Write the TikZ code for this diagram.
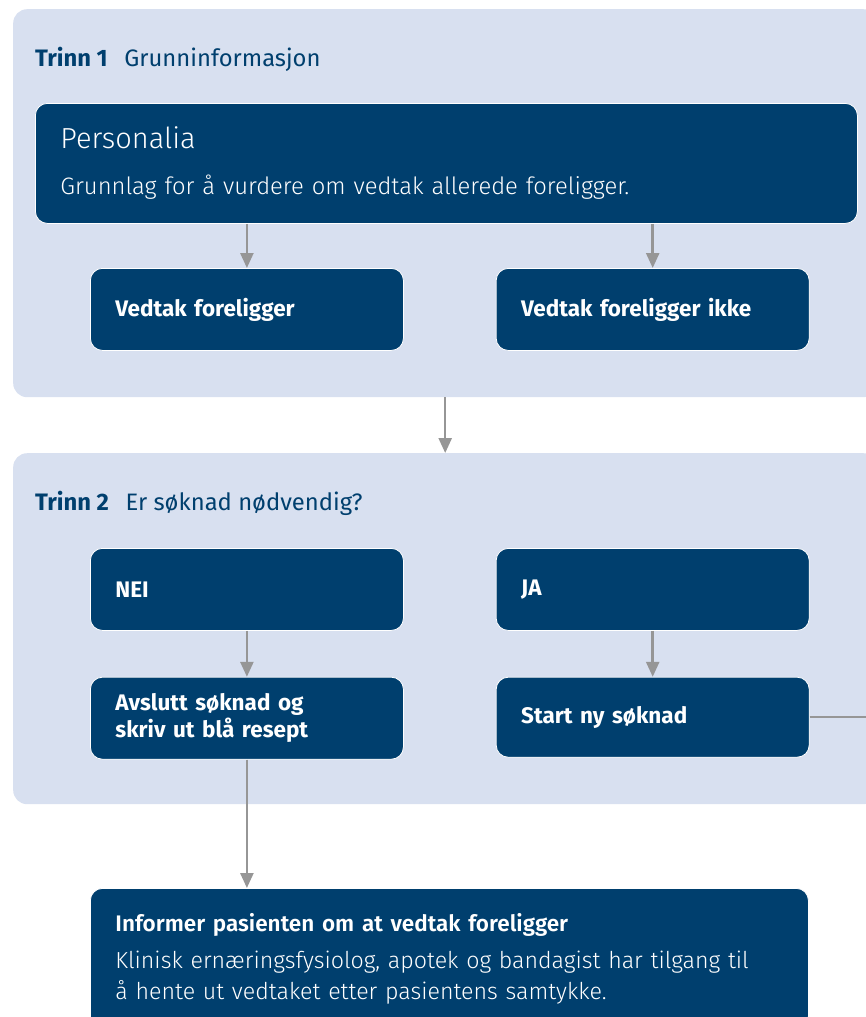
\documentclass[tikz,border=0pt]{standalone}
\usepackage{fontspec}
\setmainfont{Fira Sans}
\newfontfamily\lightfont{Fira Sans Light}
\usetikzlibrary{arrows.meta,positioning}
\definecolor{navy}{RGB}{0,63,110}
\definecolor{panelblue}{RGB}{216,224,240}
\definecolor{arrowgrey}{RGB}{150,150,150}
\tikzset{
  panel/.style={fill=panelblue,rounded corners=14pt,anchor=north west,inner sep=0pt},
  stepbox/.style={fill=navy,draw=white,line width=0.8pt,rounded corners=12pt,text=white,
    align=left,anchor=north west,inner xsep=25pt,inner ysep=0pt,text width=263pt,
    minimum height=82pt,font=\bfseries\fontsize{22.5}{27}\selectfont},
  steplabel/.style={text=navy,anchor=base west,inner sep=0pt,font=\fontsize{23.8}{28}\selectfont},
  flow/.style={draw=arrowgrey,line width=2.5pt,-{Triangle[width=13pt,length=15pt]}},
}

\begin{document}
\begin{tikzpicture}[x=1pt,y=-1pt]
  \useasboundingbox[fill=white] (0,0) rectangle (866,1017);

  \node[panel,minimum width=864pt,minimum height=388pt] (trinn1) at (13,9) {};
  \node[steplabel] (t1label) at (35,66) {\textbf{Trinn 1}\hspace{0.7em}Grunninformasjon};
  \node[stepbox,text width=772pt,minimum height=120pt,font=\lightfont\fontsize{23.8}{28}\selectfont] (personalia) at (35,103)
    {{\fontsize{29}{34}\selectfont Personalia}\\[18pt]Grunnlag for å vurdere om vedtak allerede foreligger.};
  \node[stepbox] (vedtak) at (90,268) {Vedtak foreligger};
  \node[stepbox,right=92pt of vedtak] (ikke) {Vedtak foreligger ikke};

  \node[panel,minimum width=864pt,minimum height=351pt] (trinn2) at (13,453) {};
  \node[steplabel] (t2label) at (35,510) {\textbf{Trinn 2}\hspace{0.7em}Er søknad nødvendig?};
  \node[stepbox] (nei) at (90,548) {NEI};
  \node[stepbox,right=92pt of nei] (ja) {JA};
  \node[stepbox,below=46pt of nei] (avslutt) {Avslutt søknad og\\skriv ut blå resept};
  \node[stepbox,below=46pt of ja,minimum height=80pt] (start) {Start ny søknad};
  \coordinate[right=80pt of start.east] (offright);

  \node[stepbox,text width=668pt,minimum height=140pt,font=\lightfont\fontsize{23.2}{31}\selectfont] (info) at (90,888)
    {{\bfseries\fontsize{22.5}{27}\selectfont Informer pasienten om at vedtak foreligger}\\[6pt]
     Klinisk ernæringsfysiolog, apotek og bandagist har tilgang til\\
     å hente ut vedtaket etter pasientens samtykke.};

  \draw[flow] (vedtak.north |- personalia.south) -- (vedtak.north);
  \draw[flow] (ikke.north |- personalia.south) -- (ikke.north);
  \draw[flow] (trinn1.south) -- (trinn2.north);
  \draw[flow] (nei) -- (avslutt);
  \draw[flow] (ja) -- (start);
  \draw[draw=arrowgrey,line width=2.5pt] (start.east) -- (offright);
  \draw[flow] (avslutt.south) -- (avslutt.south |- info.north);
\end{tikzpicture}
\end{document}
